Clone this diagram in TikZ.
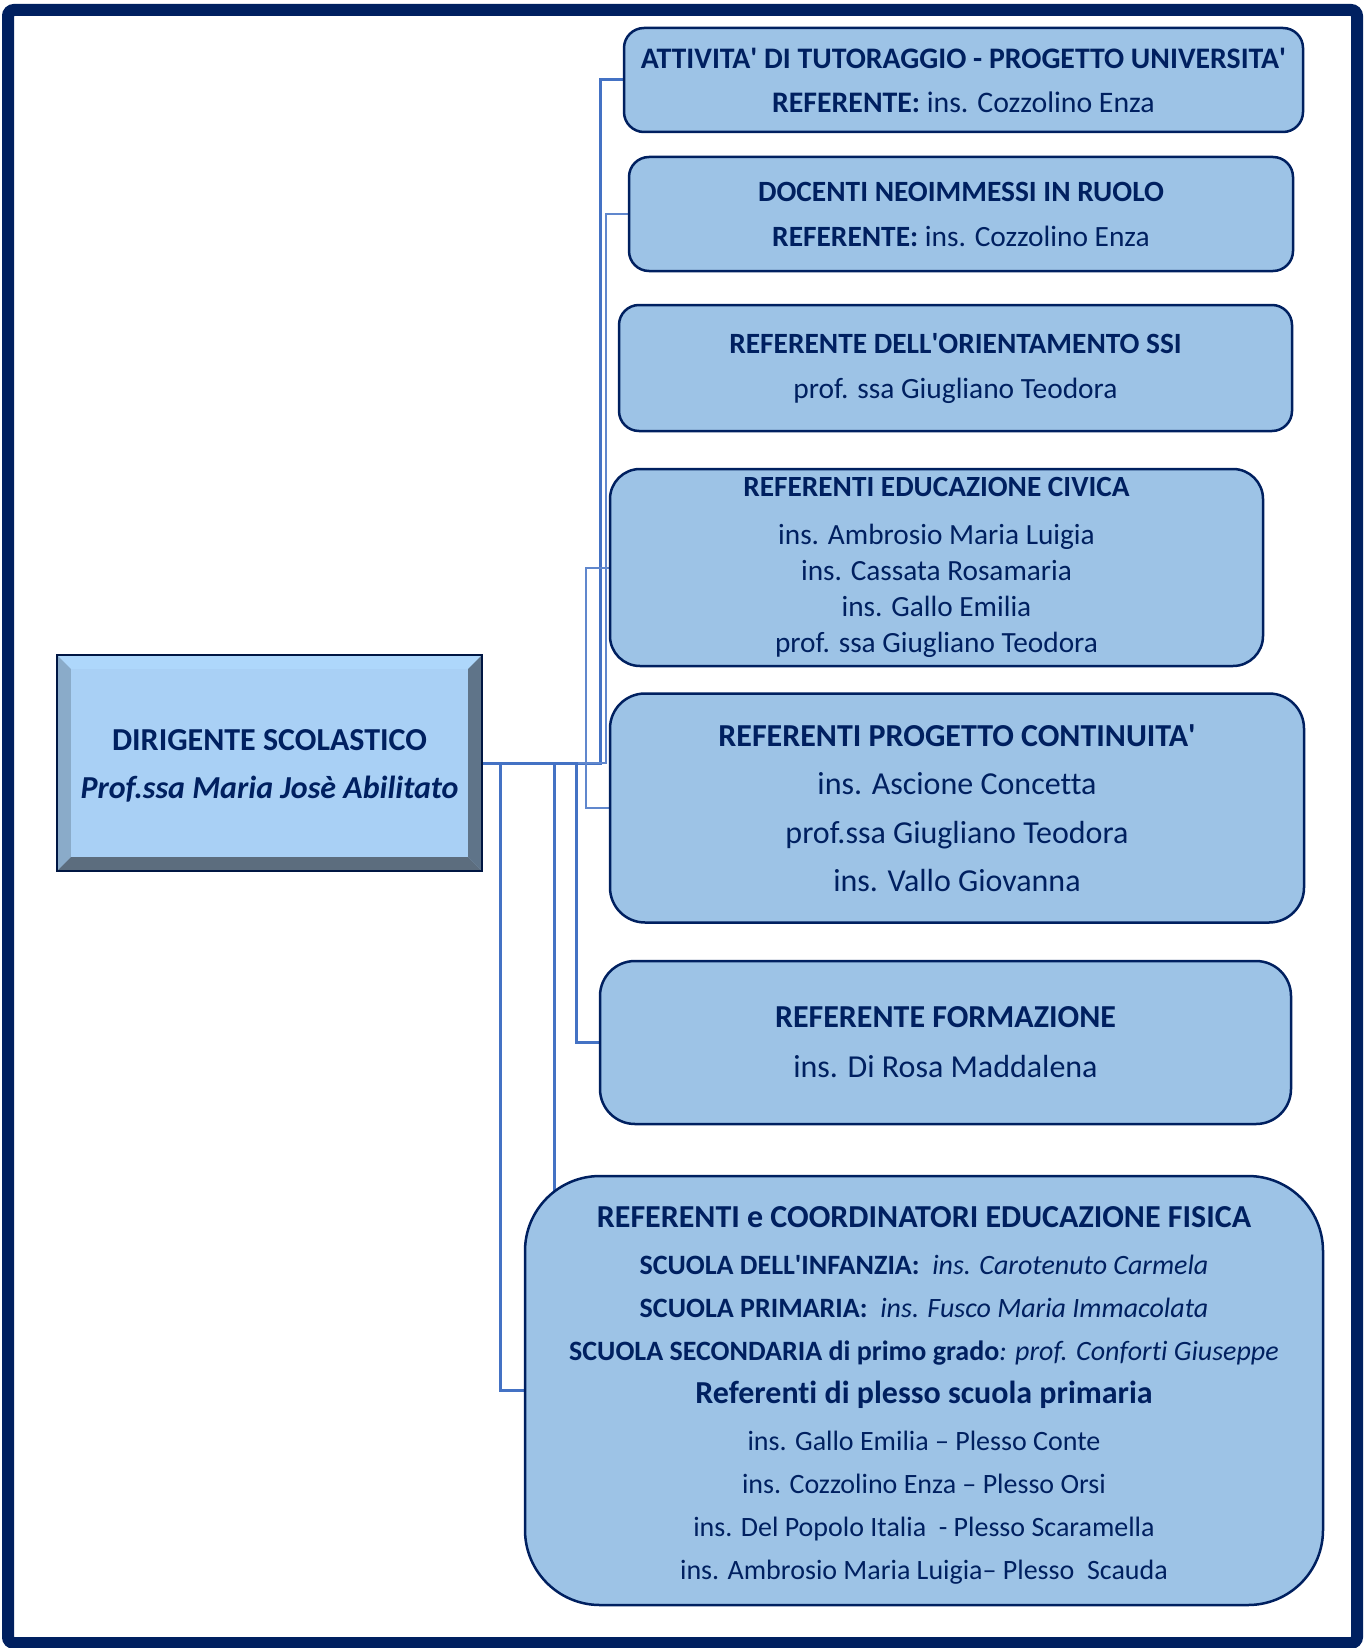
\documentclass[tikz,border=0pt]{standalone}
\usepackage{fontspec}
\setmainfont{Carlito}[Ligatures=NoCommon]
\usetikzlibrary{backgrounds}
\definecolor{navy}{HTML}{002060}
\definecolor{boxblue}{HTML}{9DC3E6}
\definecolor{linkblue}{HTML}{4472C4}
\definecolor{dirface}{HTML}{A9D0F5}
\definecolor{dirtop}{HTML}{AED7FB}
\definecolor{dirleft}{HTML}{8AABC9}
\definecolor{dirright}{HTML}{5F7489}
\definecolor{dirbottom}{HTML}{5C6D7E}
\newcommand{\fsz}[2]{\fontsize{#1}{#2}\selectfont}
\newcommand{\apo}{\textquotesingle}

\begin{document}
\begin{tikzpicture}[x=1pt, y=-1pt,
    refbox/.style={draw=navy, line width=2.5pt, fill=boxblue, rounded corners=20pt,
      align=center, text=navy, inner sep=0pt},
    link/.style={linkblue, line width=3pt},
    thinlink/.style={linkblue!85, line width=2pt}]
      \useasboundingbox (0,0) rectangle (1363,1648);
      \draw[navy, line width=12pt, rounded corners=6pt] (8,10) rectangle (1357,1643);

      % dirigente
      \node[fill=dirface, minimum width=425pt, minimum height=216pt, align=center, text=navy,
        font=\fsz{32}{48}\bfseries] (dir) at (269.5,763) {\rule{0pt}{26pt}DIRIGENTE SCOLASTICO\\ \itshape Prof.ssa Maria Josè Abilitato};
      \fill[dirtop] (dir.north west) -- (dir.north east) -- ([shift={(-14,14)}]dir.north east) -- ([shift={(14,14)}]dir.north west) -- cycle;
      \fill[dirleft] (dir.north west) -- ([shift={(14,14)}]dir.north west) -- ([shift={(14,-14)}]dir.south west) -- (dir.south west) -- cycle;
      \fill[dirright] (dir.north east) -- ([shift={(-14,14)}]dir.north east) -- ([shift={(-14,-14)}]dir.south east) -- (dir.south east) -- cycle;
      \fill[dirbottom] (dir.south west) -- ([shift={(14,-14)}]dir.south west) -- ([shift={(-14,-14)}]dir.south east) -- (dir.south east) -- cycle;
      \draw[line width=2pt, draw=navy!70!black] (dir.north west) rectangle (dir.south east);

      % referenti
      \node[refbox, minimum width=679pt, minimum height=104pt, font=\fsz{29.8}{44}] (att) at (963.5,80)
        {\textbf{ATTIVITA\apo{} DI TUTORAGGIO - PROGETTO UNIVERSITA\apo}\\ \textbf{REFERENTE:} ins. Cozzolino Enza};
      \node[refbox, minimum width=664pt, minimum height=114pt, font=\fsz{29.4}{45}] (doc) at (961,214)
        {\textbf{DOCENTI NEOIMMESSI IN RUOLO}\\ \textbf{REFERENTE:} ins. Cozzolino Enza};
      \node[refbox, minimum width=673pt, minimum height=126pt, font=\fsz{29.4}{45}] (ori) at (955.5,368)
        {\textbf{REFERENTE DELL\apo ORIENTAMENTO SSI}\\ prof. ssa Giugliano Teodora};
      \node[refbox, rounded corners=30pt, minimum width=653pt, minimum height=197pt, font=\fsz{29.3}{36}] (civ) at (936.5,567.5)
        {\textbf{REFERENTI EDUCAZIONE CIVICA}\\[12pt] ins. Ambrosio Maria Luigia\\ ins. Cassata Rosamaria\\ ins. Gallo Emilia\\ prof. ssa Giugliano Teodora};
      \node[refbox, rounded corners=35pt, minimum width=694pt, minimum height=229pt, font=\fsz{32}{48.5}] (con) at (957,808)
        {\textbf{REFERENTI PROGETTO CONTINUITA\apo}\\ ins. Ascione Concetta\\ prof.ssa Giugliano Teodora\\ ins. Vallo Giovanna};
      \node[refbox, rounded corners=35pt, minimum width=691pt, minimum height=163pt, font=\fsz{32}{50}] (for) at (945.5,1042.5)
        {\textbf{REFERENTE FORMAZIONE}\\ ins. Di Rosa Maddalena};
      \node[refbox, rounded corners=75pt, minimum width=798pt, minimum height=429pt, font=\fsz{28}{43}] (ef) at (924,1390.5)
        {{\fsz{32}{43}\rule{0pt}{31pt}\textbf{REFERENTI e COORDINATORI EDUCAZIONE FISICA}}\\[4pt]
         \textbf{SCUOLA DELL\apo INFANZIA:}\ \ \textit{ins. Carotenuto Carmela}\\
         \textbf{SCUOLA PRIMARIA:}\ \ \textit{ins. Fusco Maria Immacolata}\\
         \textbf{SCUOLA SECONDARIA di primo grado}\textit{: prof. Conforti Giuseppe}\\
         {\fsz{32}{43}\textbf{Referenti di plesso scuola primaria}}\\[4pt]
         ins. Gallo Emilia – Plesso Conte\\
         ins. Cozzolino Enza – Plesso Orsi\\
         ins. Del Popolo Italia\ \ - Plesso Scaramella\\
         ins. Ambrosio Maria Luigia– Plesso\ \ Scauda};

      % collegamenti
      \begin{pgfonlayer}{background}
        \draw[link] (dir.east) -| ([xshift=-22pt]att.west) -- (att.west);
        \draw[thinlink] (dir.east) -| ([xshift=-22pt]doc.west) -- (doc.west);
        \draw[thinlink] (dir.east) -| ([xshift=-23pt]civ.west) -- (civ.west);
        \draw[thinlink] (dir.east) -| ([xshift=-23pt]con.west) -- (con.west);
        \draw[link] (dir.east) -| ([xshift=-22pt]for.west) -- (for.west);
        \draw[link] (dir.east) -| ([xshift=31pt]ef.west);
        \draw[link] (dir.east) -| ([xshift=-23pt]ef.west) -- (ef.west);
      \end{pgfonlayer}
    \end{tikzpicture}
\end{document}
